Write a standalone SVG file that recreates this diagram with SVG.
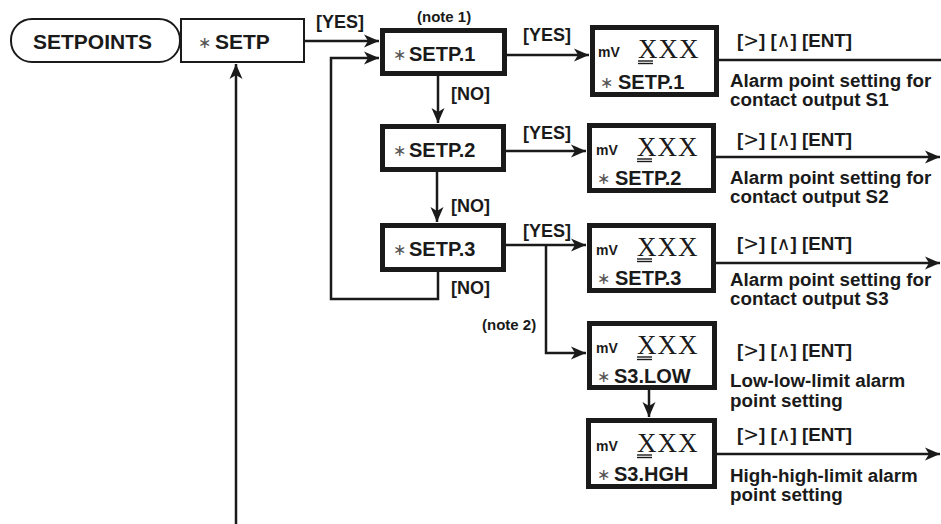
<svg xmlns="http://www.w3.org/2000/svg" width="941" height="524" viewBox="0 0 941 524">
<defs>
<marker id="ah" markerUnits="userSpaceOnUse" markerWidth="16" markerHeight="14" viewBox="-15 -7 16 14" refX="0" refY="0" orient="auto">
<path d="M-15,-6.5 L0,0 L-15,6.5 L-11,0 Z" fill="#1a1a1a"/>
</marker>
</defs>
<style>
text{font-family:"Liberation Sans",Arial,sans-serif;fill:#1a1a1a}
.lbl{font-weight:bold;font-size:18px}
.nm{font-weight:bold;font-size:20px}
.big{font-weight:bold;font-size:21px}
.desc{font-weight:bold;font-size:18.8px}
.note{font-weight:bold;font-size:15px}
.ast{font-family:"DejaVu Sans",sans-serif;font-size:16px;fill:#555}
.mv{font-weight:bold;font-size:14px}
.xxx{font-family:"Liberation Serif","Times New Roman",serif;font-size:27px;letter-spacing:1px}
.thin{font-weight:normal;font-family:"DejaVu Sans",sans-serif}
.box{fill:#fff;stroke:#1a1a1a;stroke-width:5}
.tbox{fill:#fff;stroke:#1a1a1a;stroke-width:2}
.c{fill:none;stroke:#1a1a1a;stroke-width:2.5}
.ul{stroke:#1a1a1a;stroke-width:1.4}
</style>

<g id="connectors">
<path class="c" d="M236,524 V64" marker-end="url(#ah)"/>
<path class="c" d="M305,41 H379" marker-end="url(#ah)"/>
<path class="c" d="M438,272 V299 H331 V58 H379" marker-end="url(#ah)"/>
<path class="c" d="M438,76 V123" marker-end="url(#ah)"/>
<path class="c" d="M437,172 V222" marker-end="url(#ah)"/>
<path class="c" d="M507,55 H589" marker-end="url(#ah)"/>
<path class="c" d="M506,151 H586" marker-end="url(#ah)"/>
<path class="c" d="M506,245 H586" marker-end="url(#ah)"/>
<path class="c" d="M546,245 V353 H586" marker-end="url(#ah)"/>
<path class="c" d="M649,390 V417" marker-end="url(#ah)"/>
<path class="c" d="M719,60 H941"/>
<path class="c" d="M716,157 H940" marker-end="url(#ah)"/>
<path class="c" d="M716,263 H940" marker-end="url(#ah)"/>
<path class="c" d="M717,454 H940" marker-end="url(#ah)"/>
<text class="lbl" x="316" y="28">[YES]</text>
<text class="lbl" x="523" y="41">[YES]</text>
<text class="lbl" x="523" y="139">[YES]</text>
<text class="lbl" x="523" y="237">[YES]</text>
<text class="lbl" x="451" y="100">[NO]</text>
<text class="lbl" x="451" y="212">[NO]</text>
<text class="lbl" x="451" y="294">[NO]</text>
<text class="note" x="417" y="22">(note 1)</text>
<text class="note" x="482" y="330">(note 2)</text>
</g>

<g id="setpoints">
<rect class="tbox" x="11" y="19" width="169" height="43" rx="21"/>
<text class="big" x="33" y="49">SETPOINTS</text>
</g>

<g id="setp">
<rect class="tbox" x="181" y="19" width="123" height="43"/>
<text class="ast" x="198" y="48">∗</text>
<text class="big" x="215" y="49">SETP</text>
</g>

<g id="setp1">
<rect class="box" x="382.5" y="30.5" width="122" height="43"/>
<text class="ast" x="393" y="60">∗</text>
<text class="nm" x="409" y="61">SETP.1</text>
</g>

<g id="setp2">
<rect class="box" x="382.5" y="126.5" width="121" height="43"/>
<text class="ast" x="393" y="156">∗</text>
<text class="nm" x="409" y="157">SETP.2</text>
</g>

<g id="setp3">
<rect class="box" x="382.5" y="225.5" width="121" height="44"/>
<text class="ast" x="393" y="255">∗</text>
<text class="nm" x="409" y="256">SETP.3</text>
</g>

<g id="disp1">
<rect class="box" x="592.5" y="27.5" width="124" height="67"/>
<text class="mv" x="598" y="57">mV</text>
<text class="xxx" x="638" y="58">XXX</text>
<line class="ul" x1="638" y1="61" x2="653" y2="61"/>
<line class="ul" x1="638" y1="63.5" x2="653" y2="63.5"/>
<text class="ast" x="600" y="88">∗</text>
<text class="nm" x="618" y="89">SETP.1</text>
<text class="desc" x="737" y="47">[<tspan class="thin">&gt;</tspan>] [<tspan class="thin">∧</tspan>] [ENT]</text>
<text class="desc" x="730" y="87">Alarm point setting for</text>
<text class="desc" x="730" y="106">contact output S1</text>
</g>

<g id="disp2">
<rect class="box" x="589.5" y="125.5" width="124" height="65"/>
<text class="mv" x="596" y="155">mV</text>
<text class="xxx" x="637" y="156">XXX</text>
<line class="ul" x1="637" y1="159" x2="652" y2="159"/>
<line class="ul" x1="637" y1="161.5" x2="652" y2="161.5"/>
<text class="ast" x="597" y="184">∗</text>
<text class="nm" x="615" y="185">SETP.2</text>
<text class="desc" x="737" y="146">[<tspan class="thin">&gt;</tspan>] [<tspan class="thin">∧</tspan>] [ENT]</text>
<text class="desc" x="730" y="184">Alarm point setting for</text>
<text class="desc" x="730" y="203">contact output S2</text>
</g>

<g id="disp3">
<rect class="box" x="589.5" y="225.5" width="124" height="65"/>
<text class="mv" x="596" y="255">mV</text>
<text class="xxx" x="637" y="256">XXX</text>
<line class="ul" x1="637" y1="259" x2="652" y2="259"/>
<line class="ul" x1="637" y1="261.5" x2="652" y2="261.5"/>
<text class="ast" x="597" y="284">∗</text>
<text class="nm" x="615" y="285">SETP.3</text>
<text class="desc" x="737" y="250">[<tspan class="thin">&gt;</tspan>] [<tspan class="thin">∧</tspan>] [ENT]</text>
<text class="desc" x="730" y="286">Alarm point setting for</text>
<text class="desc" x="730" y="305">contact output S3</text>
</g>

<g id="s3low">
<rect class="box" x="589.5" y="323.5" width="125" height="64"/>
<text class="mv" x="596" y="353">mV</text>
<text class="xxx" x="637" y="354">XXX</text>
<line class="ul" x1="637" y1="357" x2="652" y2="357"/>
<line class="ul" x1="637" y1="359.5" x2="652" y2="359.5"/>
<text class="ast" x="597" y="382">∗</text>
<text class="nm" x="614" y="383">S3.LOW</text>
<text class="desc" x="737" y="357">[<tspan class="thin">&gt;</tspan>] [<tspan class="thin">∧</tspan>] [ENT]</text>
<text class="desc" x="730" y="387">Low-low-limit alarm</text>
<text class="desc" x="730" y="407">point setting</text>
</g>

<g id="s3hgh">
<rect class="box" x="588.5" y="420.5" width="126" height="66"/>
<text class="mv" x="596" y="451">mV</text>
<text class="xxx" x="637" y="452">XXX</text>
<line class="ul" x1="637" y1="455" x2="652" y2="455"/>
<line class="ul" x1="637" y1="457.5" x2="652" y2="457.5"/>
<text class="ast" x="597" y="480">∗</text>
<text class="nm" x="614" y="481">S3.HGH</text>
<text class="desc" x="737" y="441">[<tspan class="thin">&gt;</tspan>] [<tspan class="thin">∧</tspan>] [ENT]</text>
<text class="desc" x="730" y="482">High-high-limit alarm</text>
<text class="desc" x="730" y="501">point setting</text>
</g>
</svg>
